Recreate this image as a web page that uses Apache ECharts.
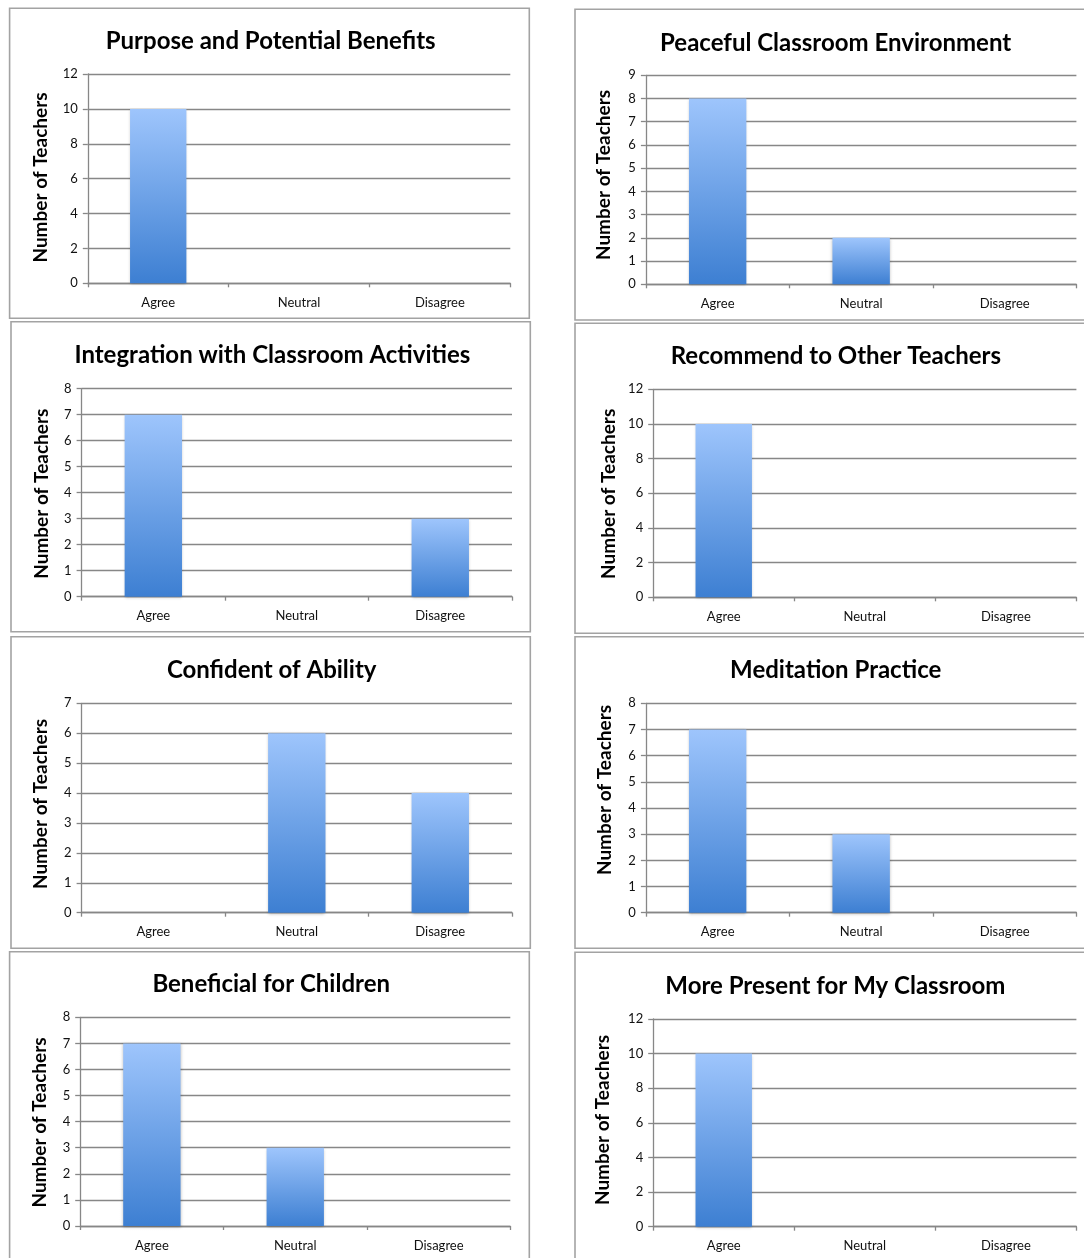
<!DOCTYPE html>
<html>
<head>
<meta charset="utf-8">
<script src="https://cdn.jsdelivr.net/npm/echarts@6/dist/echarts.min.js"></script>
<style>
html,body{margin:0;padding:0;background:#fff;}
#main{width:1084px;height:1258px;}
</style>
</head>
<body>
<div id="main"></div>
<script>
// ---------- data ----------
const categories = ['Agree', 'Neutral', 'Disagree'];
const chartTitles = [
  'Purpose and Potential Benefits',
  'Peaceful Classroom Environment',
  'Integration with Classroom Activities',
  'Recommend to Other Teachers',
  'Confident of Ability',
  'Meditation Practice',
  'Beneficial for Children',
  'More Present for My Classroom'
];
const purposeValues = [10, 0, 0];
const peacefulValues = [8, 2, 0];
const integrationValues = [7, 0, 3];
const recommendValues = [10, 0, 0];
const confidentValues = [0, 6, 4];
const meditationValues = [7, 3, 0];
const beneficialValues = [7, 3, 0];
const presentValues = [10, 0, 0];
const axisMax = [12, 9, 8, 12, 7, 8, 8, 12];
const axisInterval = [2, 1, 1, 2, 1, 1, 1, 2];
const yAxisTitle = 'Number of Teachers';

const seriesValues = [purposeValues, peacefulValues, integrationValues, recommendValues,
  confidentValues, meditationValues, beneficialValues, presentValues];

// ---------- layout ----------
// box [x0,y0,x1,y1], plot [x0,y0,x1,y1], title centre [x,y], y-name centre [x,y]
const layout = [
  { box: [9.6, 8.3, 529.3, 318.3],  plot: [87.8, 74, 510.3, 283.3],   title: [270.7, 41],    yname: [40.6, 177.5] },
  { box: [575, 9.3, 1095, 320],     plot: [645.9, 75.3, 1076.4, 284.3], title: [835.6, 43], yname: [603.4, 175] },
  { box: [11, 321.7, 530.3, 631.7], plot: [81.6, 388.7, 512, 596.7],  title: [272.4, 355],   yname: [42, 493.7] },
  { box: [575, 323.3, 1095, 633.3], plot: [653.2, 389.3, 1076.4, 597.3], title: [835.9, 356.5], yname: [608.5, 493.8] },
  { box: [11, 636.7, 530.3, 948.3], plot: [81.6, 703.3, 512, 912.7],  title: [271.7, 670.5],   yname: [41.3, 804] },
  { box: [575, 636.7, 1095, 948.3], plot: [645.9, 703.3, 1076.4, 912.7], title: [835.7, 670], yname: [605.1, 790] },
  { box: [9.6, 951.7, 529.3, 1270], plot: [80.2, 1017.3, 510.3, 1226], title: [271.2, 984], yname: [39.6, 1122.5] },
  { box: [575, 952.3, 1095, 1270],  plot: [653.2, 1019, 1076.4, 1226.7], title: [835.4, 985.8], yname: [602.8, 1120] }
];

const FONT = 'Lato, "Open Sans", sans-serif';
const GRID_COLOR = '#878787';
const barGradient = new echarts.graphic.LinearGradient(0, 0, 0, 1, [
  { offset: 0, color: '#9ec5fc' },
  { offset: 1, color: '#3d7fd2' }
]);

const grids = [], xAxes = [], yAxes = [], series = [], titles = [], graphics = [];

layout.forEach((L, i) => {
  graphics.push({
    type: 'rect', silent: true, z: 0,
    shape: { x: L.box[0], y: L.box[1], width: L.box[2] - L.box[0], height: L.box[3] - L.box[1] },
    style: { fill: 'none', stroke: '#a3a3a3', lineWidth: 1.6 }
  });
  graphics.push({
    type: 'text', silent: true, x: L.yname[0], y: L.yname[1], rotation: Math.PI / 2,
    style: { text: yAxisTitle, font: 'bold 19px ' + FONT, fill: '#000', align: 'center', verticalAlign: 'middle' }
  });
  titles.push({
    text: chartTitles[i], left: L.title[0], top: L.title[1],
    textAlign: 'center', textVerticalAlign: 'middle', padding: 0,
    textStyle: { fontFamily: FONT, fontWeight: 'bold', fontSize: 24, color: '#000' }
  });
  grids.push({
    left: L.plot[0], top: L.plot[1], width: L.plot[2] - L.plot[0], height: L.plot[3] - L.plot[1],
    containLabel: false, outerBoundsMode: 'none'
  });
  xAxes.push({
    type: 'category', gridIndex: i, data: categories, boundaryGap: true,
    axisLine: { show: true, lineStyle: { color: GRID_COLOR, width: 1.3 } },
    axisTick: { show: true, length: 4, inside: false, lineStyle: { color: GRID_COLOR, width: 1.3 } },
    axisLabel: { margin: 13, fontFamily: FONT, fontSize: 13, color: '#111', interval: 0 },
    splitLine: { show: false }
  });
  yAxes.push({
    type: 'value', gridIndex: i, min: 0, max: axisMax[i], interval: axisInterval[i],
    axisLine: { show: true, lineStyle: { color: GRID_COLOR, width: 1.3 } },
    axisTick: { show: true, length: 5, inside: false, lineStyle: { color: GRID_COLOR, width: 1.3 } },
    axisLabel: { margin: 10, fontFamily: FONT, fontSize: 13, color: '#111' },
    splitLine: { show: true, lineStyle: { color: GRID_COLOR, width: 1.3 } }
  });
  series.push({
    type: 'bar', xAxisIndex: i, yAxisIndex: i, data: seriesValues[i],
    barWidth: '40%', silent: true,
    itemStyle: { color: barGradient, shadowColor: 'rgba(0,0,0,0.25)', shadowBlur: 3, shadowOffsetY: 1 }
  });
});

const chart = echarts.init(document.getElementById('main'), null, { renderer: 'canvas' });
chart.setOption({
  animation: false,
  backgroundColor: '#fff',
  title: titles,
  grid: grids,
  xAxis: xAxes,
  yAxis: yAxes,
  series: series,
  graphic: graphics
});
</script>
</body>
</html>
